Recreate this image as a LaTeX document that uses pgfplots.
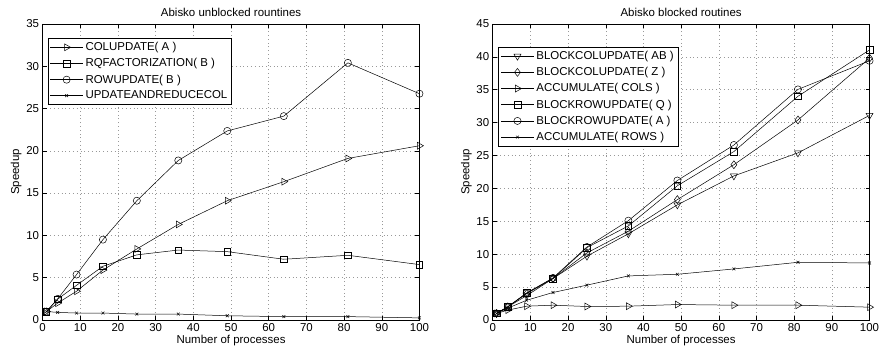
\documentclass[border=0pt]{standalone}
\usepackage{fontspec}
\setmainfont{Liberation Sans}
\usepackage{pgfplots}
\pgfplotsset{compat=1.18}
\begin{document}
\pgfplotsset{
  myax/.style={
    scale only axis, width=378bp, height=297bp,
    xmin=0, xmax=100, ymin=0,
    xtick={0,10,...,100},
    grid=major,
    major grid style={dash pattern=on 0.8bp off 3bp, gray!80, line width=0.5bp},
    axis line style={line width=0.8bp},
    tick style={black, line width=0.5bp},
    major tick length=4bp,
    tick align=inside,
    every tick label/.append style={font=\fontsize{11.5bp}{13bp}\selectfont},
    /pgf/number format/assume math mode=true,
    label style={font=\fontsize{11.5bp}{13bp}\selectfont},
    title style={font=\fontsize{11.5bp}{13bp}\selectfont, yshift=-2bp},
    xlabel={Number of processes},
    ylabel={Speedup},
    xlabel style={yshift=3bp},
    ylabel style={yshift=-2bp},
    legend style={draw=black, line width=0.8bp, fill=white, anchor=north west,
      font=\fontsize{11.5bp}{13bp}\selectfont, row sep=2bp, inner sep=2bp,
      nodes={inner sep=2.2bp}},
    legend cell align=left,
    legend image code/.code={
      \draw[mark repeat=2,mark phase=2] plot coordinates {(2bp,0bp)(18.5bp,0bp)(35bp,0bp)};
    },
  },
  pl/.style={black, solid, line width=0.5bp, mark options={solid, black, line width=0.5bp}},
}
\begin{tikzpicture}
\path[use as bounding box] (-40bp,-32bp) rectangle (843bp,321bp);
\begin{axis}[myax, at={(0,0)}, anchor=south west, ymax=35, ytick={0,5,...,35},
  title={Abisko unblocked rountines},
  legend style={at={(rel axis cs:0.013,0.953)}}]
\addplot[pl, mark=triangle, mark size=4bp, mark options={rotate=-90}] coordinates {(1,1)(4,2.0)(9,3.4)(16,5.9)(25,8.4)(36,11.3)(49,14.1)(64,16.35)(81,19.1)(100,20.6)};
\addlegendentry{COLUPDATE( A )}
\addplot[pl, mark=square, mark size=3.3bp] coordinates {(1,1)(4,2.47)(9,4.1)(16,6.35)(25,7.7)(36,8.27)(49,8.08)(64,7.18)(81,7.65)(100,6.55)};
\addlegendentry{RQFACTORIZATION( B )}
\addplot[pl, mark=o, mark size=3.6bp] coordinates {(1,1)(4,2.5)(9,5.37)(16,9.5)(25,14.1)(36,18.86)(49,22.35)(64,24.1)(81,30.4)(100,26.75)};
\addlegendentry{ROWUPDATE( B )}
\addplot[pl, mark=x, mark size=2bp] coordinates {(1,1)(4,0.9)(9,0.82)(16,0.82)(25,0.7)(36,0.7)(49,0.5)(64,0.4)(81,0.4)(100,0.25)};
\addlegendentry{UPDATEANDREDUCECOL}
\end{axis}
\begin{axis}[myax, at={(451.5bp,0)}, anchor=south west, ymax=45, ytick={0,5,...,45},
  title={Abisko blocked routines},
  legend style={at={(rel axis cs:0.015,0.923)}}]
\addplot[pl, mark=triangle, mark size=4bp, mark options={rotate=180}] coordinates {(1,1)(4,2.0)(9,3.7)(16,6.3)(25,9.7)(36,13.1)(49,17.5)(64,21.9)(81,25.4)(100,31.1)};
\addlegendentry{BLOCKCOLUPDATE( AB )}
\addplot[pl, mark=diamond, mark size=4bp] coordinates {(1,1)(4,2.0)(9,4.0)(16,6.3)(25,10.2)(36,13.5)(49,18.3)(64,23.6)(81,30.4)(100,39.8)};
\addlegendentry{BLOCKCOLUPDATE( Z )}
\addplot[pl, mark=triangle, mark size=4bp, mark options={rotate=-90}] coordinates {(1,1)(4,1.5)(9,2.1)(16,2.25)(25,2.05)(36,2.1)(49,2.35)(64,2.25)(81,2.25)(100,1.95)};
\addlegendentry{ACCUMULATE( COLS )}
\addplot[pl, mark=square, mark size=3.3bp] coordinates {(1,1)(4,2.0)(9,4.1)(16,6.3)(25,11.0)(36,14.3)(49,20.4)(64,25.6)(81,34.0)(100,41.05)};
\addlegendentry{BLOCKROWUPDATE( Q )}
\addplot[pl, mark=o, mark size=3.6bp] coordinates {(1,1)(4,2.0)(9,4.1)(16,6.4)(25,11.1)(36,15.1)(49,21.2)(64,26.6)(81,35.05)(100,39.4)};
\addlegendentry{BLOCKROWUPDATE( A )}
\addplot[pl, mark=x, mark size=2bp] coordinates {(1,1)(4,1.8)(9,3.0)(16,4.18)(25,5.3)(36,6.7)(49,6.95)(64,7.76)(81,8.77)(100,8.67)};
\addlegendentry{ACCUMULATE( ROWS )}
\end{axis}
\end{tikzpicture}
\end{document}
